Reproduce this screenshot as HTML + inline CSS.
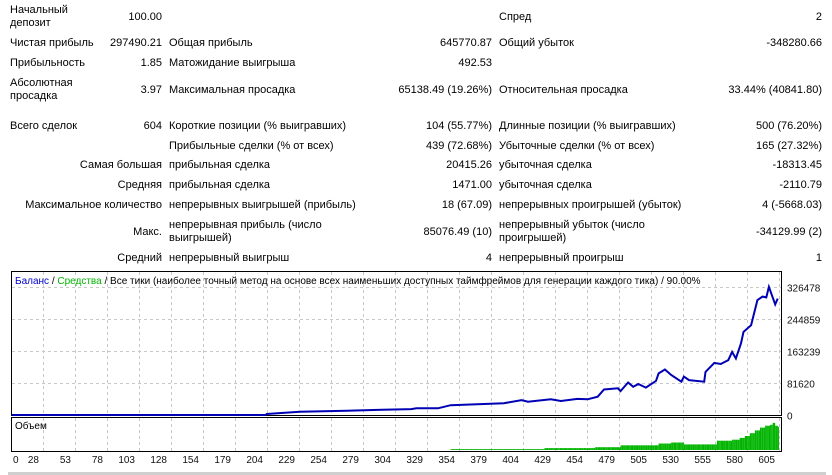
<!DOCTYPE html>
<html><head><meta charset="utf-8">
<style>
body{margin:0;width:832px;height:475px;background:#fff;position:relative;overflow:hidden;font-family:"Liberation Sans","DejaVu Sans",sans-serif;font-size:11px;color:#000}
.t{position:absolute;white-space:nowrap;line-height:13px}
.r{text-align:right}
</style></head><body>
<div id="report"></div>
<svg id="chart" width="832" height="475" style="position:absolute;left:0;top:0"></svg>
<script>
const rows=[
 [17,"Начальный<br>депозит","100.00","","","Спред","2",false],
 [43,"Чистая прибыль","297490.21","Общая прибыль","645770.87","Общий убыток","-348280.66",false],
 [63,"Прибыльность","1.85","Матожидание выигрыша","492.53","","",false],
 [90,"Абсолютная<br>просадка","3.97","Максимальная просадка","65138.49 (19.26%)","Относительная просадка","33.44% (40841.80)",false],
 [126,"Всего сделок","604","Короткие позиции (% выигравших)","104 (55.77%)","Длинные позиции (% выигравших)","500 (76.20%)",false],
 [146,"","","Прибыльные сделки (% от всех)","439 (72.68%)","Убыточные сделки (% от всех)","165 (27.32%)",false],
 [165,"Самая большая","","прибыльная сделка","20415.26","убыточная сделка","-18313.45",true],
 [185,"Средняя","","прибыльная сделка","1471.00","убыточная сделка","-2110.79",true],
 [205,"Максимальное количество","","непрерывных выигрышей (прибыль)","18 (67.09)","непрерывных проигрышей (убыток)","4 (-5668.03)",true],
 [232,"Макс.","","непрерывная прибыль (число<br>выигрышей)","85076.49 (10)","непрерывный убыток (число<br>проигрышей)","-34129.99 (2)",true],
 [258,"Средний","","непрерывный выигрыш","4","непрерывный проигрыш","1",true]
];
const rep=document.getElementById('report');
function addT(html,x,cy,right,name){
  if(!html)return;
  const d=document.createElement('div');
  d.className='t'+(right?' r':'');
  d.innerHTML=html;
  const lines=html.split('<br>').length;
  d.style.top=(cy-lines*6.5)+'px';
  if(right){d.style.right=(832-x)+'px';}else{d.style.left=x+'px';}
  
  
  rep.appendChild(d);
}
rows.forEach((r,i)=>{
  addT(r[1],r[7]?162:10,r[0],r[7],'label');
  addT(r[2],162,r[0],true,'value');
  addT(r[3],169,r[0],false,'label');
  addT(r[4],492,r[0],true,'value');
  addT(r[5],499,r[0],false,'label');
  addT(r[6],822,r[0],true,'value');
});
</script>
<script>
const tradeIdx=[0,100,200,201,227,264,292,315,319,336,346,388,402,407,425,433,446,454,462,467,478,480,486,490,494,500,508,510,515,520,528,530,534,546,547,554,559,565,568,571,575,577,583,588,592,595,597,602,604];
const balance=[100,100,100,2500,8400,11000,13500,15000,17000,17000,25000,30000,38000,34000,40000,35700,41000,40000,46700,65000,68000,61000,83000,72000,79000,70000,87000,106000,116000,102000,85000,98000,89000,85000,110000,133000,130000,140000,161000,144000,183000,212000,229000,293000,302000,300000,327000,282000,297000];
const volIdx=[346,360,380,400,420,440,460,470,480,490,500,510,520,530,540,550,556,562,568,574,578,582,586,590,594,598,600,602,604];
const volume=[1,1,1,1,2,2,3,3,5,5,5,7,8,6,6,6,10,10,11,13,15,18,21,24,26,27,29,26,25];
const yTicks=[0,81620,163239,244859,326478];
const xTicks=[0,28,53,78,103,128,154,179,204,229,254,279,304,329,354,379,404,429,454,479,505,530,555,580,605];

const svg=document.getElementById('chart');
const NS='http://www.w3.org/2000/svg';
function el(tag,attrs,parent){const e=document.createElementNS(NS,tag);for(const k in attrs)e.setAttribute(k,attrs[k]);(parent||svg).appendChild(e);return e;}
const X0=12,X1=779,N=605;
const xs=i=>X0+i*(X1-X0)/N;
const ys=v=>415-v*(32/81620);
const vy=v=>450-v*(28/30);

let e=el('rect',{x:11.5,y:271.5,width:770,height:144,fill:'#fff',stroke:'#000'});


e=el('rect',{x:11.5,y:417.5,width:770,height:34,fill:'#fff',stroke:'#000'});


for(let k=0;k<24;k++){const gx=43.5+32*k;
 e=el('line',{x1:gx,x2:gx,y1:272,y2:415,stroke:'#c8c8c8','stroke-dasharray':'3,3'});
 
 
 e=el('line',{x1:gx,x2:gx,y1:418,y2:451,stroke:'#c8c8c8','stroke-dasharray':'3,3'});
 
 
}
yTicks.forEach((v,i)=>{
 const y=Math.round(ys(v))+0.5;
 if(i>0){e=el('line',{x1:12,x2:781,y1:y,y2:y,stroke:'#c8c8c8','stroke-dasharray':'3,3'});
 
 }
 e=el('text',{x:787,y:y+4,'font-size':'10','font-family':'Liberation Sans, sans-serif',fill:'#111'});
 e.textContent=String(v);
 
 
});
xTicks.forEach((v,k)=>{
 const gx=11+32*k;
 e=el('text',{x:k==0?13:gx-4,y:463,'font-size':'10','font-family':'Liberation Sans, sans-serif',fill:'#111','text-anchor':k==0?'start':'end'});
 e.textContent=String(v);
 
 
});
volIdx.forEach((idx,j)=>{
 const next=j<volIdx.length-1?volIdx[j+1]:idx+1;
 for(let i=idx;i<next;i++){
  const x=xs(i);
  const r=el('rect',{x:x.toFixed(1),y:vy(volume[j]).toFixed(1),width:1.27,height:(450-vy(volume[j])).toFixed(1),fill:'#00b400'});
  
  
 }
});
let d='';
tradeIdx.forEach((t,i)=>{d+=(i?'L':'M')+xs(t).toFixed(1)+' '+ys(balance[i]).toFixed(1);});
e=el('path',{d:d,fill:'none',stroke:'#0000b4','stroke-width':2});


const t=el('text',{x:15,y:284,'font-size':'10','font-family':'Liberation Sans, sans-serif'});


t.innerHTML='<tspan fill="#0000c8">Баланс</tspan><tspan fill="#000"> / </tspan><tspan fill="#00b400">Средства</tspan><tspan fill="#000"> / Все тики (наиболее точный метод на основе всех наименьших доступных таймфреймов для генерации каждого тика) / 90.00%</tspan>';
e=el('text',{x:15,y:429,'font-size':'10','font-family':'Liberation Sans, sans-serif',fill:'#000'});
e.textContent='Объем';


e=el('rect',{x:8,y:472,width:818,height:3,fill:'#cfcfcf'});


</script>
</body></html>
